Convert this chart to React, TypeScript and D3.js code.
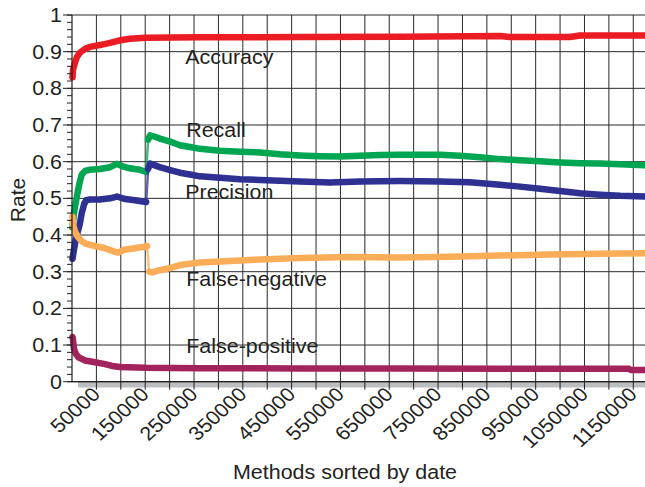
import React from "react";
import * as d3 from "d3";

// ---------- data ----------
const xDomainMax = 1174000;
const xLabelTicks = [50000, 150000, 250000, 350000, 450000, 550000, 650000, 750000, 850000, 950000, 1050000, 1150000];
const xGridStep = 50000;
const yTicks = [0, 0.1, 0.2, 0.3, 0.4, 0.5, 0.6, 0.7, 0.8, 0.9, 1];
const yTickLabels = ["0", "0.1", "0.2", "0.3", "0.4", "0.5", "0.6", "0.7", "0.8", "0.9", "1"];

const accuracy: [number, number][] = [
  [1000, 0.83], [2000, 0.85], [6000, 0.87], [10000, 0.885], [16000, 0.897], [27000, 0.908],
  [37000, 0.913], [57000, 0.918], [78000, 0.924], [98000, 0.931], [119000, 0.935], [150000, 0.938],
  [262000, 0.939], [467000, 0.94], [672000, 0.941], [877000, 0.943], [897000, 0.94], [1020000, 0.94],
  [1041000, 0.944], [1174000, 0.944],
];
const recall: [number, number][] = [
  [1000, 0.42], [4000, 0.46], [8000, 0.49], [12000, 0.52], [16000, 0.545], [20000, 0.565],
  [27000, 0.575], [37000, 0.578], [57000, 0.58], [78000, 0.585], [92000, 0.594], [102000, 0.588],
  [119000, 0.582], [139000, 0.578], [152000, 0.572], [156000, 0.66], [160000, 0.672], [170000, 0.668],
  [180000, 0.663], [201000, 0.655], [221000, 0.645], [242000, 0.64], [262000, 0.635], [303000, 0.63],
  [344000, 0.627], [385000, 0.625], [426000, 0.62], [467000, 0.617], [508000, 0.615], [549000, 0.614],
  [590000, 0.616], [631000, 0.618], [672000, 0.619], [713000, 0.619], [754000, 0.619], [795000, 0.616],
  [836000, 0.612], [877000, 0.607], [918000, 0.604], [959000, 0.601], [1000000, 0.598], [1041000, 0.596],
  [1082000, 0.595], [1123000, 0.593], [1174000, 0.59],
];
const precision: [number, number][] = [
  [1000, 0.335], [4000, 0.36], [8000, 0.39], [12000, 0.41], [16000, 0.43], [20000, 0.46],
  [25000, 0.485], [29000, 0.495], [37000, 0.497], [57000, 0.497], [78000, 0.5], [92000, 0.505],
  [109000, 0.498], [129000, 0.495], [152000, 0.49], [156000, 0.58], [160000, 0.595], [170000, 0.59],
  [180000, 0.585], [201000, 0.577], [221000, 0.57], [242000, 0.565], [262000, 0.56], [303000, 0.556],
  [344000, 0.552], [385000, 0.55], [426000, 0.548], [467000, 0.546], [529000, 0.543], [590000, 0.546],
  [672000, 0.547], [754000, 0.546], [815000, 0.544], [877000, 0.537], [918000, 0.532], [959000, 0.526],
  [1000000, 0.52], [1041000, 0.514], [1082000, 0.51], [1123000, 0.507], [1174000, 0.505],
];
const falseNegative: [number, number][] = [
  [1000, 0.45], [2000, 0.43], [6000, 0.41], [12000, 0.395], [20000, 0.383], [29000, 0.376],
  [47000, 0.37], [68000, 0.364], [84000, 0.356], [94000, 0.352], [107000, 0.36], [129000, 0.364],
  [148000, 0.368], [154000, 0.37], [158000, 0.3], [164000, 0.298], [180000, 0.304], [201000, 0.31],
  [221000, 0.318], [262000, 0.325], [365000, 0.332], [467000, 0.337], [570000, 0.34], [672000, 0.339],
  [775000, 0.341], [877000, 0.344], [979000, 0.347], [1082000, 0.349], [1174000, 0.35],
];
const falsePositive: [number, number][] = [
  [1000, 0.122], [2000, 0.115], [4000, 0.09], [8000, 0.075], [14000, 0.066], [27000, 0.058],
  [47000, 0.053], [68000, 0.048], [82000, 0.043], [98000, 0.04], [150000, 0.038], [262000, 0.037],
  [467000, 0.036], [672000, 0.036], [877000, 0.035], [1141000, 0.035], [1145000, 0.032], [1174000, 0.032],
];

const seriesNames = ["Accuracy", "Recall", "Precision", "False-negative", "False-positive"];
const seriesData = [accuracy, recall, precision, falseNegative, falsePositive];
const seriesColors = ["#ec1c24", "#00a651", "#2e3192", "#fbad58", "#a3245c"];
const labelAnchors: [number, number][] = [
  [232000, 0.866], [234000, 0.666], [232000, 0.497], [234000, 0.261], [234000, 0.079],
];

const xTitle = "Methods sorted by date";
const yTitle = "Rate";

// ---------- layout ----------
const W = 645;
const H = 487;
const left = 72;
const right = 645;
const top = 15;
const bottom = 381.7;
const FONT = "'Liberation Sans', Arial, Helvetica, sans-serif";
const FS = 19.5;
const SX = 1.1;
const INK = "#231f20";

export default function App() {
  const x = d3.scaleLinear().domain([0, xDomainMax]).range([left, right]);
  const y = d3.scaleLinear().domain([0, 1]).range([bottom, top]);
  const xGrid = d3.range(xGridStep, xDomainMax, xGridStep);
  const yMinor = d3.range(0, 51).map((i) => i * 0.02);
  const line = d3
    .line<[number, number]>()
    .x((d) => x(d[0]))
    .y((d) => y(d[1]));

  const gridPath =
    yTicks.map((t) => `M${left},${y(t)}H${right}`).join("") +
    xGrid.map((t) => `M${x(t)},${top}V${bottom}`).join("");
  const tickPath =
    yMinor.map((t) => `M${left - 5},${y(t)}H${left}`).join("") +
    yTicks.map((t) => `M${left - 9},${y(t)}H${left}`).join("") +
    xGrid.map((t) => `M${x(t)},${bottom}V${bottom + 8}`).join("");

  const renderSeries = (data: [number, number][], color: string, key: number) => {
    const runs: [number, number][][] = [];
    const jumps: [number, number][][] = [];
    let cur: [number, number][] = [data[0]];
    for (let i = 1; i < data.length; i++) {
      const a = data[i - 1];
      const b = data[i];
      if (Math.abs(b[1] - a[1]) > 0.06) {
        runs.push(cur);
        jumps.push([a, b]);
        cur = [b];
      } else cur.push(b);
    }
    runs.push(cur);
    return (
      <g key={key}>
        {jumps.map((j, i) => (
          <path key={"j" + i} d={line(j) || ""} fill="none" stroke={color} strokeWidth={2.5} opacity={0.75} />
        ))}
        {runs.map((r, i) => (
          <path
            key={"r" + i}
            d={(r.length > 1 ? line(r) : `M${x(r[0][0])},${y(r[0][1])}l0.1,0`) || ""}
            fill="none"
            stroke={color}
            strokeWidth={6.5}
            strokeLinejoin="round"
            strokeLinecap="round"
          />
        ))}
        <path
          d={data.map((d) => `M${x(d[0]) - 3},${y(d[1])}h6M${x(d[0])},${y(d[1]) - 3}v6`).join("")}
          fill="none"
          stroke={color}
          strokeWidth={1}
          opacity={0.8}
        />
      </g>
    );
  };

  return (
    <svg width={W} height={H} style={{ position: "absolute", left: 0, top: 0, background: "#fff" }} fontFamily={FONT}>
      <rect x={0} y={0} width={W} height={H} fill="#fff" />
      <rect x={78} y={bottom} width={right - 78} height={5.8} fill="#bcbec0" />

      {seriesNames.map((n, i) => (
        <text
          key={n}
          transform={`translate(${x(labelAnchors[i][0])},${y(labelAnchors[i][1])}) scale(${SX},1)`}
          fontSize={FS}
          fill={INK}
        >
          {n}
        </text>
      ))}

      <path d={gridPath} fill="none" stroke="#2a2a2a" strokeWidth={1} />

      {seriesData.map((d, i) => renderSeries(d, seriesColors[i], i))}

      <path d={`M${left},${top}V${bottom}H${right}`} fill="none" stroke={INK} strokeWidth={1.2} />
      <path d={tickPath} fill="none" stroke={INK} strokeWidth={1} />

      {yTicks.map((t, i) => (
        <text
          key={"yl" + t}
          transform={`translate(62,${y(t) + 7}) scale(${SX},1)`}
          textAnchor="end"
          fontSize={FS}
          fill={INK}
        >
          {yTickLabels[i]}
        </text>
      ))}

      {xLabelTicks.map((t) => (
        <text
          key={"xl" + t}
          transform={`translate(${x(t) + 5},${bottom + 14}) scale(${SX},1) rotate(-45)`}
          textAnchor="end"
          fontSize={FS}
          fill={INK}
        >
          {String(t)}
        </text>
      ))}

      <text transform={`translate(345,479) scale(${SX},1)`} textAnchor="middle" fontSize={FS} fill={INK}>
        {xTitle}
      </text>
      <text transform={`translate(25,200) rotate(-90)`} textAnchor="middle" fontSize={21} fill={INK}>
        {yTitle}
      </text>
    </svg>
  );
}
